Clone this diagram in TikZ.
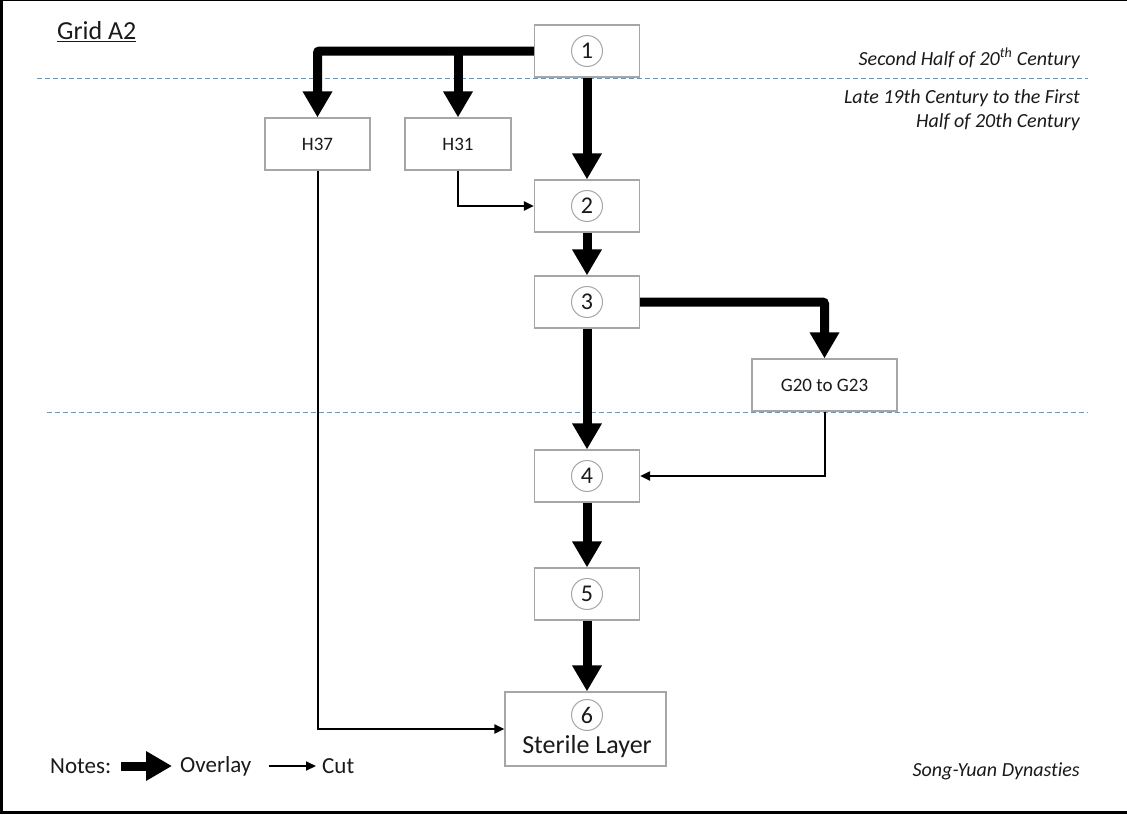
\documentclass[tikz,border=0pt]{standalone}
\usepackage{fontspec}
\setmainfont{Carlito}[Ligatures=NoCommon]
\usetikzlibrary{arrows.meta}
\definecolor{boxgray}{HTML}{A6A6A6}
\definecolor{dashblue}{HTML}{5B9BD5}
\definecolor{txt}{HTML}{1A1A1A}
\begin{document}
\begin{tikzpicture}[x=1pt,y=-1pt,
  box/.style={draw=boxgray, line width=1.2pt, fill=white, inner sep=0pt, minimum width=105pt, minimum height=52pt, text=txt, font=\fontsize{19}{22}\selectfont},
  num/.style={circle, draw=boxgray, line width=1pt, fill=white, minimum size=31pt, inner sep=0pt, text=txt, font=\fontsize{24}{26}\selectfont},
  thickarr/.style={line width=9pt, rounded corners=2pt, -{Triangle[width=28pt,length=26pt]}},
  thinarr/.style={line width=2pt, -{Triangle[width=9pt,length=10pt]}},
  sepline/.style={draw=dashblue, line width=1pt, dash pattern=on 5pt off 3pt},
  lbl/.style={inner sep=0pt, text=txt, font=\fontsize{20}{24}\selectfont\itshape, align=right},
  note/.style={inner sep=0pt, text=txt, font=\fontsize{23}{26}\selectfont}
]
\fill[black] (0,0) rectangle (1127,814);
\fill[white] (3,1) rectangle (1127,811);
\useasboundingbox (0,0) rectangle (1127,814);

% period separators
\draw[sepline] (37,78) -- (1088,78);
\draw[sepline] (47,412) -- (1088,412);

% title
\node[inner sep=0pt, anchor=west, text=txt, font=\fontsize{26}{28}\selectfont] (title) at (57,32) {\underline{Grid A2}};

% period labels
\node[lbl, anchor=east] (p1) at (1080,58) {Second Half of 20\textsuperscript{th} Century};
\node[lbl, anchor=east] (p2) at (1080,110) {Late 19th Century to the First\\Half of 20th Century};
\node[lbl, anchor=east] (p3) at (1080,771) {Song-Yuan Dynasties};

% boxes
\node[box] (b1) at (587,51) {};
\node[num] (c1) at (b1) {1};
\node[box] (h37) at (317.5,144) {H37};
\node[box, minimum width=106pt] (h31) at (458,144) {H31};
\node[box] (b2) at (587,206) {};
\node[num] (c2) at (b2) {2};
\node[box] (b3) at (587,302) {};
\node[num] (c3) at (b3) {3};
\node[box, minimum width=145pt] (g) at (824.5,385) {G20 to G23};
\node[box] (b4) at (587,476) {};
\node[num] (c4) at (b4) {4};
\node[box] (b5) at (587,594) {};
\node[num] (c5) at (b5) {5};
\node[box, minimum width=161pt, minimum height=74pt] (b6) at (585.5,729) {};
\node[num] (c6) at (587,715) {6};
\node[inner sep=0pt, text=txt, font=\fontsize{26}{28}\selectfont] (sterile) at (587,747) {Sterile Layer};

% overlay connectors
\draw[thickarr] (b1.west) -| (h37.north);
\draw[thickarr] (h31.north |- b1.west) -- (h31.north);
\draw[thickarr] (b1.south) -- (b2.north);
\draw[thickarr] (b2.south) -- (b3.north);
\draw[thickarr] (b3.east) -| (g.north);
\draw[thickarr] (b3.south) -- (b4.north);
\draw[thickarr] (b4.south) -- (b5.north);
\draw[thickarr] (b5.south) -- (b5.south |- b6.north);

% cut connectors
\draw[thinarr] (h31.south) |- (b2.west);
\draw[thinarr] (h37.south) |- (b6.west);
\draw[thinarr] (g.south) |- (b4.east);

% legend
\node[note, anchor=west] (notes) at (50,766) {Notes:};
\node[note, anchor=west] (overlay) at (180,766) {Overlay};
\node[note, anchor=west] (cut) at (322,766) {Cut};
\draw[thickarr] ([xshift=10pt]notes.east) -- ([xshift=-8pt]overlay.west);
\draw[thinarr] ([xshift=17pt]overlay.east) -- ([xshift=-6pt]cut.west);
\end{tikzpicture}
\end{document}
